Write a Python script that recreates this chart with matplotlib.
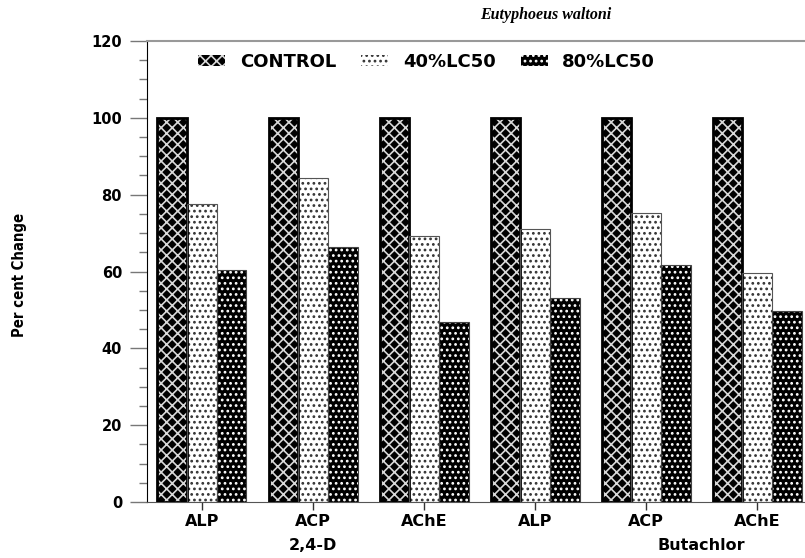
import matplotlib
matplotlib.use("Agg")
import matplotlib.pyplot as plt
import numpy as np
from matplotlib.patches import Patch
from matplotlib.ticker import MultipleLocator

enzymes = ["ALP", "ACP", "AChE", "ALP", "ACP", "AChE"]
herbicides = ["2,4-D", "Butachlor"]
series_names = ["CONTROL", "40%LC50", "80%LC50"]
control = [100, 100, 100, 100, 100, 100]
lc40 = [77.6, 84.4, 69.2, 71.1, 75.2, 59.6]
lc80 = [60.4, 66.4, 46.9, 53.1, 61.7, 49.7]
title = "Eutyphoeus waltoni"
ylabel = "Per cent Change"

plt.rcParams['hatch.linewidth'] = 1.2
bold_font = ['DejaVu Sans']

fig = plt.figure(figsize=(8.05, 5.58), dpi=100)
ax = fig.add_axes([147/805, 1-502/558, 1-147/805, (502-41)/558])

x = np.arange(len(enzymes))
w = 0.267
offsets = [-w, 0, w]
styles = [
    dict(face='black', hatch='xxx', hcol='#d8d8d8', edge='black', lw=2.0),
    dict(face='white', hatch='...', hcol='#333333', edge='#555555', lw=0.8),
    dict(face='black', hatch='...', hcol='white', edge='#444444', lw=0.8),
]
for vals, off, st in zip([control, lc40, lc80], offsets, styles):
    ax.bar(x + off, vals, w, color=st['face'], edgecolor=st['hcol'],
           hatch=st['hatch'], linewidth=0, zorder=2)
    ax.bar(x + off, vals, w, fill=False, edgecolor=st['edge'],
           linewidth=st['lw'], zorder=3)

handles = [Patch(facecolor=st['face'], edgecolor=st['hcol'], hatch=st['hatch'],
                 linewidth=0) for st in styles]
leg = ax.legend(handles, series_names, loc='center', bbox_to_anchor=(0.425, 0.955),
                ncol=3, frameon=False, handlelength=1.5, handleheight=0.6,
                columnspacing=1.4, handletextpad=0.8,
                prop=dict(family=bold_font, weight='bold', size=13))

ax.set_xlim(-0.495, 5.43)
ax.set_ylim(0, 120)
ax.yaxis.set_major_locator(MultipleLocator(20))
ax.yaxis.set_minor_locator(MultipleLocator(5))
ax.set_xticks(x)
ax.set_xticklabels(enzymes, family=bold_font, weight='bold', size=11.5)
for lab in ax.get_yticklabels():
    lab.set_family(bold_font)
    lab.set_weight('bold')
    lab.set_size(10.5)
ax.tick_params(axis='y', which='major', length=12, width=1, color='#777777', pad=6)
ax.tick_params(axis='y', which='minor', length=6, width=1, color='#777777')
ax.tick_params(axis='x', which='major', length=6, width=1, color='#333333', pad=3)

ax.spines['right'].set_visible(False)
ax.spines['top'].set_color('#999999')
ax.spines['top'].set_linewidth(1.5)
ax.spines['left'].set_color('black')
ax.spines['bottom'].set_color('#555555')

ax.text(1, -0.094, herbicides[0], transform=ax.get_xaxis_transform(),
        ha='center', va='center', family=bold_font, weight='bold', size=11.5)
ax.text(4.5, -0.094, herbicides[1], transform=ax.get_xaxis_transform(),
        ha='center', va='center', family=bold_font, weight='bold', size=11.5)

fig.text(546/805, 1-15/558, title, ha='center', va='center',
         family=['Liberation Serif', 'DejaVu Serif'], style='italic',
         weight='bold', size=11.5)
fig.text(20/805, 1-275/558, ylabel, rotation=90, ha='center', va='center',
         family=['DejaVu Sans'], stretch='condensed', weight='bold', size=10.7)

fig.savefig("out.png", dpi=100)
